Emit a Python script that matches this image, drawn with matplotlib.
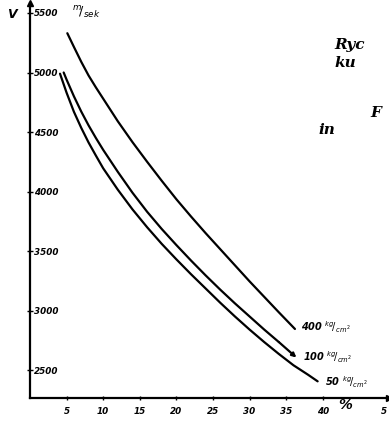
import matplotlib
matplotlib.use("Agg")
import matplotlib.pyplot as plt

# velocity V [m/sek] against % for three pressures
x_400 = [5.1, 6, 7, 8, 9, 10, 12, 14, 16, 18, 20, 22, 24, 26, 28, 30, 32, 34, 36.2]
v_400 = [5330, 5215, 5090, 4975, 4875, 4780, 4590, 4415, 4250, 4090, 3935,
         3790, 3650, 3515, 3380, 3245, 3115, 2985, 2845]

x_100 = [4.6, 5, 6, 7, 8, 9, 10, 12, 14, 16, 18, 20, 22, 24, 26, 28, 30, 32, 34, 36.4]
v_100 = [5000, 4940, 4800, 4672, 4556, 4450, 4350, 4165, 3990, 3830, 3685,
         3550, 3420, 3295, 3175, 3060, 2950, 2840, 2735, 2605]

x_50 = [4.1, 5, 6, 7, 8, 9, 10, 12, 14, 16, 18, 20, 22, 24, 26, 28, 30, 32,
        34, 36, 38, 39.3]
v_50 = [4990, 4830, 4670, 4535, 4412, 4302, 4195, 4015, 3850, 3700, 3560,
        3430, 3305, 3185, 3065, 2950, 2840, 2735, 2635, 2540, 2460, 2405]

x_ticks = [5, 10, 15, 20, 25, 30, 35, 40]
y_ticks = [2500, 3000, 3500, 4000, 4500, 5000, 5500]

fig = plt.figure(figsize=(3.89, 4.23), dpi=100)
ax = fig.add_axes([30 / 389, 25 / 423, 359 / 389, 395 / 423])
ax.set_xlim(0, 49.05)
ax.set_ylim(2265, 5584)

lw = 1.6
ax.plot(x_400, v_400, color="black", lw=lw, solid_capstyle="round")
ax.plot(x_100[:-1], v_100[:-1], color="black", lw=lw, solid_capstyle="round")
ax.annotate("", xy=(x_100[-1], v_100[-1]), xytext=(x_100[-2], v_100[-2]),
            arrowprops=dict(arrowstyle="-|>", color="black", lw=lw,
                            mutation_scale=6, shrinkA=0, shrinkB=0))
ax.plot(x_50, v_50, color="black", lw=lw, solid_capstyle="round")

# curve labels
lab = dict(fontsize=7, fontstyle="italic", fontweight="bold", va="center")
ax.text(37.0, 2860, r"400 $^{kg}\!/_{cm^2}$", **lab)
ax.text(37.3, 2610, r"100 $^{kg}\!/_{cm^2}$", **lab)
ax.text(40.3, 2395, r"50 $^{kg}\!/_{cm^2}$", **lab)

# axes in a hand-drawn look
for s in ["top", "right"]:
    ax.spines[s].set_visible(False)
ax.spines["left"].set_linewidth(1.6)
ax.spines["bottom"].set_linewidth(1.6)
ax.plot(0, 1, "^", color="black", ms=4, transform=ax.transAxes, clip_on=False)
ax.plot(1, 0, ">", color="black", ms=4, transform=ax.transAxes, clip_on=False)

ax.set_yticks(y_ticks)
ax.set_yticklabels([str(v) for v in y_ticks])
ax.tick_params(axis="y", direction="inout", length=4, width=1, pad=-5)
for t in ax.get_yticklabels():
    t.set_horizontalalignment("left")
    t.set_fontsize(6.3)
    t.set_fontstyle("italic")
    t.set_fontweight("bold")

ax.set_xticks(x_ticks)
ax.set_xticklabels([str(v) for v in x_ticks])
ax.tick_params(axis="x", direction="inout", length=3, width=1, pad=5)
for t in ax.get_xticklabels():
    t.set_fontsize(6.3)
    t.set_fontstyle("italic")
    t.set_fontweight("bold")

ax.text(43.0, 2265, "%", fontsize=10, fontstyle="italic", fontweight="bold",
        ha="center", va="top", clip_on=False)
fig.text(381 / 389, 1 - 411 / 423, "5", fontsize=6.3, fontstyle="italic",
         fontweight="bold", ha="left", va="center")

# axis names
fig.text(12 / 389, 1 - 14 / 423, "V", fontsize=9, fontstyle="italic",
         fontweight="bold", ha="center", va="center")
fig.text(72 / 389, 1 - 13 / 423, r"$^{m}\!/_{sek}$", fontsize=9,
         ha="left", va="center")

# cut-off caption text from the page
cap = dict(fontsize=11, family="DejaVu Serif", fontstyle="italic",
           fontweight="bold", va="center")
fig.text(334 / 389, 1 - 45 / 423, "Ryc", **cap)
fig.text(334 / 389, 1 - 63 / 423, "ku", **cap)
fig.text(370 / 389, 1 - 113 / 423, "F", **cap)
fig.text(318 / 389, 1 - 130 / 423, "in", **cap)

fig.savefig("out.png", dpi=100)
